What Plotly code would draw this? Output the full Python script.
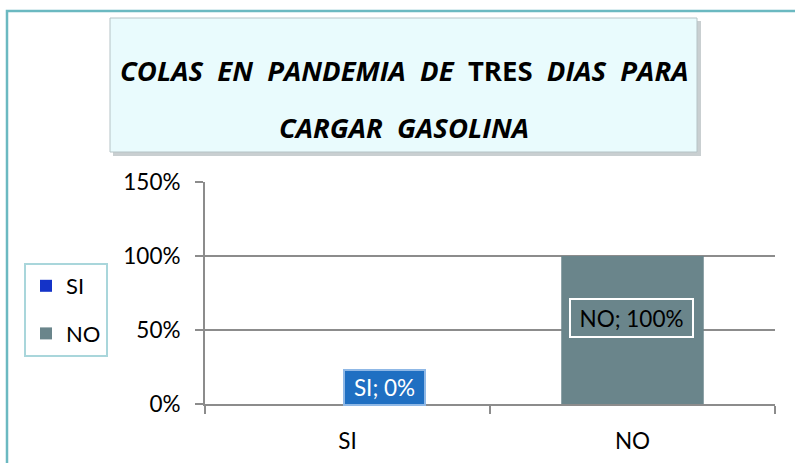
import plotly.graph_objects as go

categories = ["SI", "NO"]
values = [0.0, 1.0]
bar_colors = ["#1433C8", "#6A858B"]
y_ticks = [0, 0.5, 1.0, 1.5]
y_tick_labels = ["0%", "50%", "100%", "150%"]
title_line1 = "<b><i>COLAS  EN  PANDEMIA  DE</i>  TRES  <i>DIAS  PARA</i></b>"
title_line2 = "<b><i>CARGAR  GASOLINA</i></b>"

W, H = 795, 463
L, R, T, B = 205, 20, 182, 59
pw, ph = W - L - R, H - T - B

def px(x):
    return (x - L) / pw

def py(y):
    return (H - B - y) / ph

FONT = "Lato"

fig = go.Figure()
for c, v, col in zip(categories, values, bar_colors):
    fig.add_trace(go.Bar(
        x=[c], y=[v], name=c, marker=dict(color=col, line=dict(width=0)),
        width=0.5, legendgroup=c, showlegend=True,
    ))

shapes = []
annotations = []

# outer border
shapes.append(dict(type="rect", xref="paper", yref="paper",
                   x0=px(7), x1=px(800), y0=py(470), y1=py(11),
                   line=dict(color="#6BB9C1", width=2.5), fillcolor="rgba(0,0,0,0)", layer="below"))
# title box shadow
shapes.append(dict(type="rect", xref="paper", yref="paper",
                   x0=px(113), x1=px(701), y0=py(156), y1=py(21),
                   line=dict(width=0), fillcolor="#C9CFD1", layer="below"))
# title box
shapes.append(dict(type="rect", xref="paper", yref="paper",
                   x0=px(110), x1=px(697), y0=py(152), y1=py(18),
                   line=dict(color="#B5C3C6", width=1), fillcolor="#E9FBFD", layer="below"))

for txt, yy in [(title_line1, 70), (title_line2, 127)]:
    annotations.append(dict(text=txt, xref="paper", yref="paper",
                            x=px(404), y=py(yy), xanchor="center", yanchor="middle",
                            showarrow=False,
                            font=dict(family="Open Sans", size=27.5, color="black")))

# data labels
label_styles = [
    dict(bgcolor="#1F6FC2", bordercolor="#8FB8E6", fontcolor="white", xshift=37, yshift=17, w=75, h=29),
    dict(bgcolor="#6A858B", bordercolor="white", fontcolor="black", xshift=-1, yshift=12, w=117, h=32),
]
for c, v, st in zip(categories, values, label_styles):
    annotations.append(dict(
        x=c, y=v / 2, xref="x", yref="y",
        text=f"{c}; {round(v*100)}%", showarrow=False,
        font=dict(family=FONT, size=22.5, color=st["fontcolor"]),
        bgcolor=st["bgcolor"], bordercolor=st["bordercolor"], borderwidth=2, borderpad=2,
        width=st["w"], height=st["h"], valign="middle",
        xshift=st["xshift"], yshift=st["yshift"],
    ))

fig.update_layout(
    width=W, height=H,
    margin=dict(l=L, r=R, t=T, b=B, autoexpand=False),
    paper_bgcolor="white", plot_bgcolor="white",
    shapes=shapes, annotations=annotations,
    bargap=0.5,
    showlegend=True,
    legend=dict(
        x=px(24), y=py(263), xanchor="left", yanchor="top",
        bordercolor="#A9D6DB", borderwidth=2, bgcolor="white",
        font=dict(family=FONT, size=22, color="black"),
        tracegroupgap=16, traceorder="grouped",
        itemwidth=30,
    ),
    xaxis=dict(
        type="category", range=[-0.5, 1.5],
        showline=True, linecolor="#8C8C8C", linewidth=2,
        ticks="outside", tickson="boundaries", ticklen=8, tickcolor="#8C8C8C", tickwidth=2,
        tickfont=dict(family=FONT, size=22.5, color="black"),
        ticklabelstandoff=16,
        showgrid=False, zeroline=False,
    ),
    yaxis=dict(
        range=[0, 1.5], autorange=False,
        tickvals=y_ticks, ticktext=y_tick_labels,
        showline=True, linecolor="#8C8C8C", linewidth=2,
        ticks="outside", ticklen=8, tickcolor="#8C8C8C", tickwidth=2,
        showgrid=True, gridcolor="#8C8C8C", gridwidth=2,
        zeroline=False,
        tickfont=dict(family=FONT, size=22.5, color="black"),
        ticklabelstandoff=10,
    ),
)

fig.write_html("out.html", config={"displayModeBar": False},
               post_script="document.body.style.margin='0';document.body.style.padding='0';")
